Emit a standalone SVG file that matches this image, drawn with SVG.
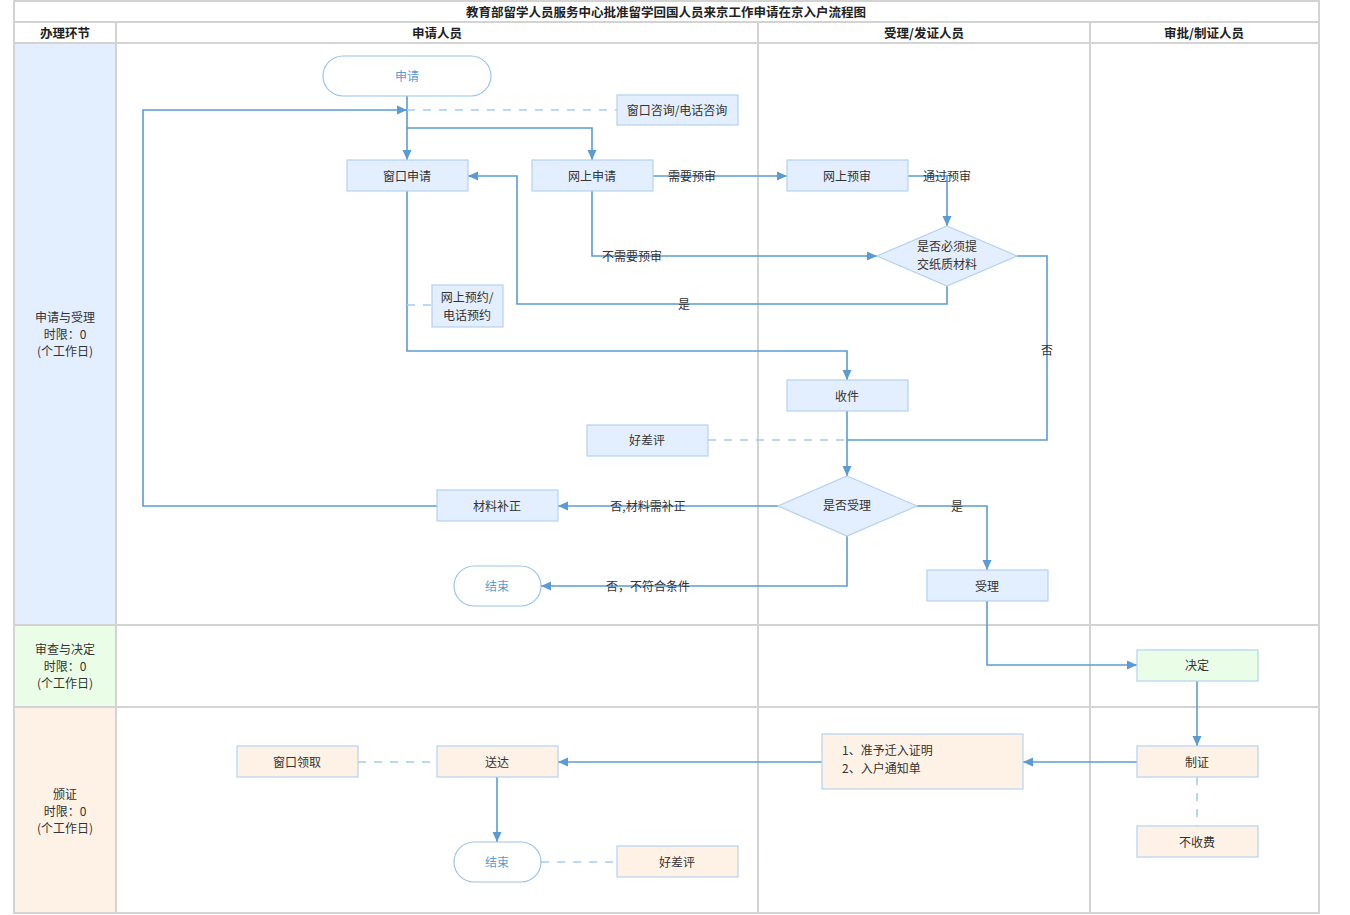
<svg xmlns="http://www.w3.org/2000/svg" width="1350" height="915" viewBox="0 0 1350 915">
<style>
text{font-family:"Noto Sans CJK SC","Liberation Sans",sans-serif;font-size:12px;fill:#333;text-anchor:middle;dominant-baseline:central}
.hd{font-weight:bold;font-size:12.5px;fill:#222}
.grid{stroke:#d3d3d3;stroke-width:2;fill:none}
.b{fill:#e3eefe;stroke:#b4d2f0;stroke-width:1.2}
.g{fill:#eafde6;stroke:#b4d2f0;stroke-width:1.2}
.o{fill:#fef2e6;stroke:#b4d2f0;stroke-width:1.2}
.t{fill:#fff;stroke:#9cc3e8;stroke-width:1.2}
.tt{fill:#5b9bd5}
.c{stroke:#5b9bd5;stroke-width:1.6;fill:none}
.a{marker-end:url(#ar)}
.d{stroke:#a9cbee;stroke-width:1.6;fill:none;stroke-dasharray:8 8}
</style>
<defs>
<marker id="ar" viewBox="0 0 10 10" refX="10" refY="5" markerWidth="10" markerHeight="10" markerUnits="userSpaceOnUse" orient="auto">
<path d="M0,0.5 L10,5 L0,9.5 z" fill="#5b9bd5"/>
</marker>
</defs>
<rect width="1350" height="915" fill="#fff"/>
<g id="lanes">
<rect x="14" y="43" width="102" height="582" fill="#e3eefe"/>
<rect x="14" y="625" width="102" height="82" fill="#eafde6"/>
<rect x="14" y="707" width="102" height="206" fill="#fef2e6"/>
<path class="grid" d="M14,1 H1319 V913 H14 Z M14,22 H1319 M14,43 H1319 M14,625 H1319 M14,707 H1319 M116,22 V913 M758,22 V913 M1090,22 V913"/>
<text class="hd" x="666" y="11">教育部留学人员服务中心批准留学回国人员来京工作申请在京入户流程图</text>
<text class="hd" x="65" y="32">办理环节</text>
<text class="hd" x="437" y="32">申请人员</text>
<text class="hd" x="924" y="32">受理/发证人员</text>
<text class="hd" x="1204" y="32">审批/制证人员</text>
<text x="65" y="316">申请与受理</text>
<text x="65" y="333">时限：0</text>
<text x="65" y="350">(个工作日)</text>
<text x="65" y="648">审查与决定</text>
<text x="65" y="665">时限：0</text>
<text x="65" y="682">(个工作日)</text>
<text x="65" y="793">颁证</text>
<text x="65" y="810">时限：0</text>
<text x="65" y="827">(个工作日)</text>
</g>
<g id="connectors">
<path class="c a" d="M407,96 V160"/>
<path class="c a" d="M407,128 H592 V160"/>
<path class="c a" d="M437,506 H143 V110 H407"/>
<path class="d" d="M407,110 H617"/>
<path class="c a" d="M653,176 H787"/>
<path class="c a" d="M908,176 H947 V226"/>
<path class="c a" d="M592,191 V256 H877"/>
<path class="c a" d="M947,286 V304 H517 V176 H468"/>
<path class="c" d="M1017,256 H1047 V440 H847"/>
<path class="c a" d="M407,191 V351 H847 V380"/>
<path class="d" d="M407,305 H432"/>
<path class="c a" d="M847,411 V476"/>
<path class="d" d="M708,440 H847"/>
<path class="c a" d="M778,506 H558"/>
<path class="c a" d="M847,536 V586 H541"/>
<path class="c a" d="M917,506 H987 V570"/>
<path class="c a" d="M987,601 V665 H1137"/>
<path class="c a" d="M1197,681 V746"/>
<path class="c a" d="M1137,762 H1023"/>
<path class="c a" d="M822,762 H558"/>
<path class="d" d="M1197,777 V826"/>
<path class="d" d="M358,762 H437"/>
<path class="c a" d="M497,777 V842"/>
<path class="d" d="M541,862 H617"/>
<text x="692" y="175">需要预审</text>
<text x="947" y="175">通过预审</text>
<text x="632" y="255">不需要预审</text>
<text x="684" y="303">是</text>
<text x="1047" y="349">否</text>
<text x="648" y="505">否,材料需补正</text>
<text x="648" y="585">否，不符合条件</text>
<text x="957" y="505">是</text>
</g>
<g id="n-start"><rect class="t" x="323" y="56" width="168" height="40" rx="20"/><text class="tt" x="407" y="75">申请</text></g>
<g id="n-consult"><rect class="b" x="617" y="95" width="121" height="30"/><text x="677" y="109">窗口咨询/电话咨询</text></g>
<g id="n-window"><rect class="b" x="347" y="160" width="121" height="31"/><text x="407" y="175">窗口申请</text></g>
<g id="n-online"><rect class="b" x="532" y="160" width="121" height="31"/><text x="592" y="175">网上申请</text></g>
<g id="n-precheck"><rect class="b" x="787" y="160" width="121" height="31"/><text x="847" y="175">网上预审</text></g>
<g id="n-paper"><path class="b" d="M947,226 L1017,256 L947,286 L877,256 Z"/><text x="947" y="245">是否必须提</text><text x="947" y="263">交纸质材料</text></g>
<g id="n-booking"><rect class="b" x="432" y="285" width="71" height="42"/><text x="467" y="296">网上预约/</text><text x="467" y="314">电话预约</text></g>
<g id="n-receive"><rect class="b" x="787" y="380" width="121" height="31"/><text x="847" y="395">收件</text></g>
<g id="n-rate1"><rect class="b" x="587" y="425" width="121" height="31"/><text x="647" y="439">好差评</text></g>
<g id="n-accept-q"><path class="b" d="M847,476 L917,506 L847,536 L778,506 Z"/><text x="847" y="504">是否受理</text></g>
<g id="n-supplement"><rect class="b" x="437" y="490" width="121" height="31"/><text x="497" y="505">材料补正</text></g>
<g id="n-end1"><rect class="t" x="454" y="566" width="87" height="40" rx="20"/><text class="tt" x="497" y="585">结束</text></g>
<g id="n-accept"><rect class="b" x="927" y="570" width="121" height="31"/><text x="987" y="585">受理</text></g>
<g id="n-decide"><rect class="g" x="1137" y="650" width="121" height="31"/><text x="1197" y="664">决定</text></g>
<g id="n-make"><rect class="o" x="1137" y="746" width="121" height="31"/><text x="1197" y="761">制证</text></g>
<g id="n-free"><rect class="o" x="1137" y="826" width="121" height="31"/><text x="1197" y="841">不收费</text></g>
<g id="n-docs"><rect class="o" x="822" y="734" width="201" height="55"/><text x="842" y="749" style="text-anchor:start">1、准予迁入证明</text><text x="842" y="767" style="text-anchor:start">2、入户通知单</text></g>
<g id="n-deliver"><rect class="o" x="437" y="746" width="121" height="31"/><text x="497" y="761">送达</text></g>
<g id="n-pickup"><rect class="o" x="237" y="746" width="121" height="31"/><text x="297" y="761">窗口领取</text></g>
<g id="n-end2"><rect class="t" x="454" y="842" width="87" height="40" rx="20"/><text class="tt" x="497" y="861">结束</text></g>
<g id="n-rate2"><rect class="o" x="617" y="846" width="121" height="31"/><text x="677" y="861">好差评</text></g>
</svg>
